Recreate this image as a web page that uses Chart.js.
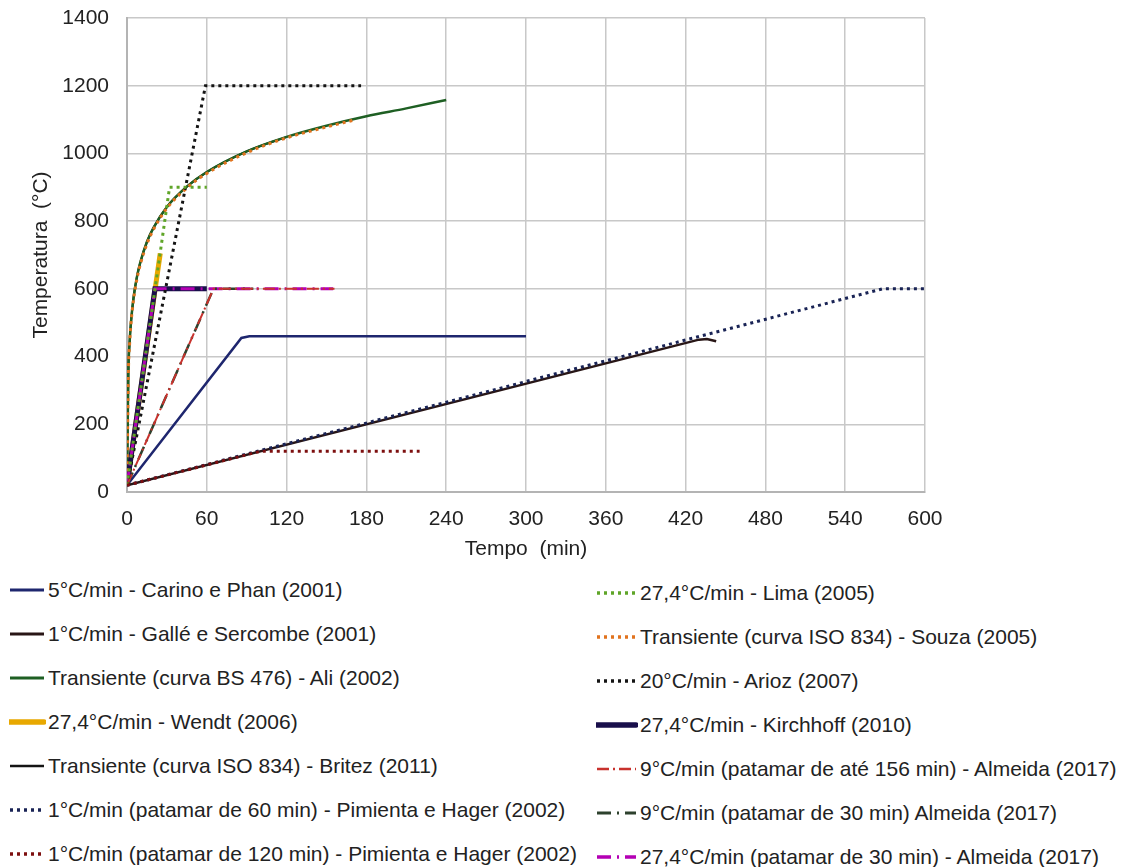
<!DOCTYPE html>
<html>
<head>
<meta charset="utf-8">
<script src="https://cdn.jsdelivr.net/npm/chart.js@4.4.1/dist/chart.umd.min.js"></script>
<style>
  body { margin: 0; background: #fff; font-family: "Liberation Sans", Arial, sans-serif; }
  #wrap { position: absolute; left: 0; top: 0; width: 1125px; height: 565px; }
  #legend { position: absolute; left: 0; top: 568px; width: 1125px; }
  .item { position: absolute; height: 44px; display: flex; align-items: center; font-size: 21px; color: #222; white-space: nowrap; }
  .item svg { margin-right: 2px; }
</style>
</head>
<body>
<div id="wrap"><canvas id="tempChart"></canvas></div>
<div id="legend"></div>
<script>
// time (min), temperature (°C) pairs
const carinoPhan = [[0, 20], [86, 455], [92, 460], [300, 460]];
const galleSercombe = [[0, 20], [430, 450], [436, 452], [443, 445]];
const aliBS476 = [[0, 20], [1, 349], [2, 445], [3, 502], [5, 576], [7.5, 636], [10, 678], [15, 739], [20, 781], [30, 842], [45, 902], [60, 945], [90, 1006], [120, 1049], [150, 1082], [180, 1110], [210, 1133], [240, 1158]];
const wendt = [[0, 20], [25, 705]];
const britez = [[0, 20], [1, 349], [2, 445], [3, 502], [5, 576], [7.5, 636], [10, 678], [15, 739], [20, 781], [30, 842], [45, 902], [60, 945], [90, 1006], [120, 1049]];
const pimienta60 = [[0, 20], [568, 600], [600, 600]];
const pimienta120 = [[0, 20], [100, 120], [220, 120]];
const lima = [[0, 20], [32, 900], [60, 900]];
const souza = [[0, 20], [1, 345], [2, 440], [3, 498], [5, 570], [7.5, 630], [10, 672], [15, 733], [20, 776], [30, 838], [45, 898], [60, 941], [90, 1002], [120, 1046], [150, 1078], [170, 1098]];
const arioz = [[0, 20], [59, 1200], [176, 1200]];
const kirchhoff = [[0, 20], [21, 600], [60, 600]];
const almeida156 = [[0, 20], [65, 600], [156, 600]];
const almeida30_9 = [[0, 20], [65, 600], [95, 600]];
const almeida30_274 = [[0, 20], [21, 600], [155, 600]];

const xTicks = [0, 60, 120, 180, 240, 300, 360, 420, 480, 540, 600];

const dot = [3, 4];
const pts = arr => arr.map(p => ({ x: p[0], y: p[1] }));

const datasets = [
  { label: "5°C/min - Carino e Phan (2001)", data: pts(carinoPhan), borderColor: "rgb(30, 38, 110)", borderWidth: 2.5, order: 5 },
  { label: "1°C/min - Gallé e Sercombe (2001)", data: pts(galleSercombe), borderColor: "rgb(40, 22, 22)", borderWidth: 2.5, order: 3 },
  { label: "Transiente (curva BS 476) - Ali (2002)", data: pts(aliBS476), borderColor: "rgb(30, 95, 35)", borderWidth: 2.5, cubicInterpolationMode: "monotone", order: 4 },
  { label: "27,4°C/min - Wendt (2006)", data: pts(wendt), borderColor: "rgb(232, 168, 0)", borderWidth: 5, order: 4 },
  { label: "Transiente (curva ISO 834) - Britez (2011)", data: pts(britez), borderColor: "rgb(20, 20, 20)", borderWidth: 2, cubicInterpolationMode: "monotone", order: 6 },
  { label: "1°C/min (patamar de 60 min) - Pimienta e Hager (2002)", data: pts(pimienta60), borderColor: "rgb(25, 35, 85)", borderWidth: 3, borderDash: dot, order: 2 },
  { label: "1°C/min (patamar de 120 min) - Pimienta e Hager (2002)", data: pts(pimienta120), borderColor: "rgb(125, 15, 15)", borderWidth: 3, borderDash: dot, order: 1 },
  { label: "27,4°C/min - Lima (2005)", data: pts(lima), borderColor: "rgb(95, 165, 40)", borderWidth: 3, borderDash: dot, order: 1 },
  { label: "Transiente (curva ISO 834) - Souza (2005)", data: pts(souza), borderColor: "rgb(225, 115, 30)", borderWidth: 3, borderDash: dot, cubicInterpolationMode: "monotone", order: 2 },
  { label: "20°C/min - Arioz (2007)", data: pts(arioz), borderColor: "rgb(20, 20, 20)", borderWidth: 3, borderDash: dot, order: 1 },
  { label: "27,4°C/min - Kirchhoff (2010)", data: pts(kirchhoff), borderColor: "rgb(25, 15, 75)", borderWidth: 5, order: 3 },
  { label: "9°C/min (patamar de até 156 min) - Almeida (2017)", data: pts(almeida156), borderColor: "rgb(200, 50, 45)", borderWidth: 2, borderDash: [12, 4, 2, 4], order: 2 },
  { label: "9°C/min (patamar de 30 min) Almeida (2017)", data: pts(almeida30_9), borderColor: "rgb(45, 65, 45)", borderWidth: 2.5, borderDash: [14, 6, 2, 6], order: 2 },
  { label: "27,4°C/min (patamar de 30 min) - Almeida (2017)", data: pts(almeida30_274), borderColor: "rgb(180, 0, 180)", borderWidth: 3, borderDash: [14, 6, 2, 6], order: 2 }
];
datasets.forEach(d => { d.pointRadius = 0; d.fill = false; d.backgroundColor = d.borderColor; });

const font = { family: "'Liberation Sans', Arial, sans-serif", size: 21 };

const ctx = document.getElementById("tempChart").getContext("2d");
const chart = new Chart(ctx, {
  type: "line",
  data: { datasets: datasets },
  options: {
    responsive: true,
    maintainAspectRatio: false,
    animation: false,
    layout: { padding: { left: 29, top: 18, right: 200, bottom: 3 } },
    plugins: { legend: { display: false }, tooltip: { enabled: false } },
    scales: {
      x: {
        type: "linear", min: 0, max: 600,
        afterBuildTicks: s => { s.ticks = xTicks.map(v => ({ value: v })); },
        afterFit: s => { s.height = 70; s.paddingLeft = 0; s.paddingRight = 0; },
        ticks: { font: font, color: "#222", padding: 15, maxRotation: 0 },
        grid: { color: "#c8c8c8", lineWidth: 1.5, drawTicks: false },
        border: { color: "#b4b4b4", width: 2 },
        title: { display: true, text: "Tempo  (min)", font: font, color: "#222", padding: 0 }
      },
      y: {
        min: 0, max: 1400,
        afterFit: s => { s.width = 98; s.paddingTop = 0; s.paddingBottom = 0; },
        ticks: { stepSize: 200, font: font, color: "#222", padding: 18, callback: v => String(v) },
        grid: { color: "#c8c8c8", lineWidth: 1.5, drawTicks: false },
        border: { color: "#b4b4b4", width: 2 },
        title: { display: true, text: "Temperatura  (°C)", font: font, color: "#222", padding: 0 }
      }
    }
  }
});

// legend in two columns, built from the datasets
const legend = document.getElementById("legend");
chart.data.datasets.forEach((d, i) => {
  const col = i < 7 ? 0 : 1;
  const row = i % 7;
  const el = document.createElement("div");
  el.className = "item";
  el.style.left = (col ? 596 : 9) + "px";
  el.style.top = (row * 44 + (col ? 3 : 0)) + "px";
  const w = col ? 42 : 37;
  const dash = d.borderDash ? d.borderDash.join(",") : "none";
  const sw = Math.min(d.borderWidth + 0.5, 6);
  el.innerHTML = '<svg width="' + w + '" height="10"><line x1="1" y1="5" x2="' + (w - 2) + '" y2="5" stroke="' + d.borderColor +
    '" stroke-width="' + sw + '" stroke-dasharray="' + dash + '" stroke-linecap="' + (d.borderWidth >= 5 ? "round" : "butt") + '"/></svg>';
  const span = document.createElement("span");
  span.textContent = d.label;
  el.appendChild(span);
  legend.appendChild(el);
});
</script>
</body>
</html>
